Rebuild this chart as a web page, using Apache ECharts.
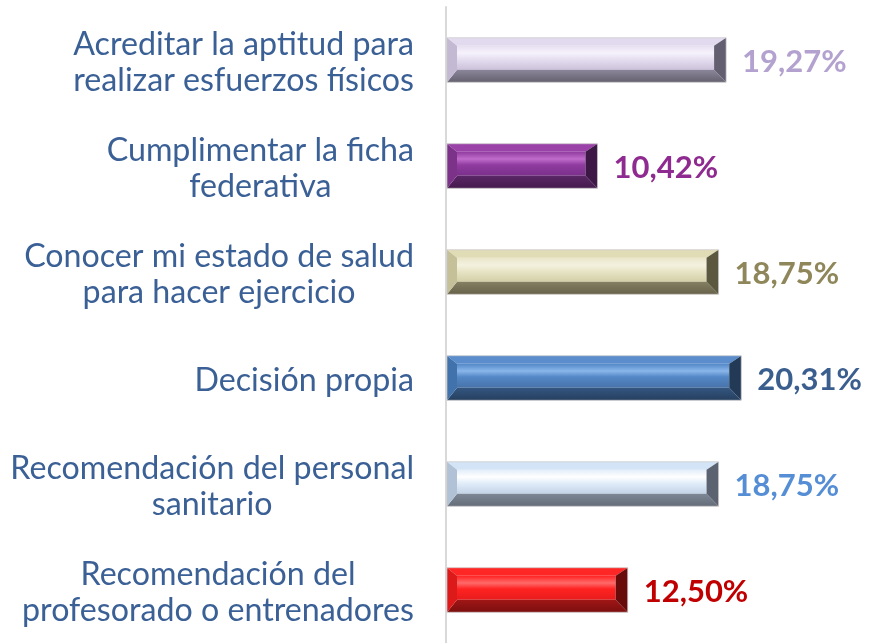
<!DOCTYPE html>
<html>
<head>
<meta charset="utf-8">
<script src="https://cdn.jsdelivr.net/npm/echarts@6/dist/echarts.min.js"></script>
<style>
    html, body { margin: 0; padding: 0; background: #fff; }
    #chart { width: 869px; height: 643px; }
</style>
</head>
<body>
<div id="chart"></div>
<script>
// categorías (de arriba a abajo)
var categories = [
    'Acreditar la aptitud para\nrealizar esfuerzos físicos',
    'Cumplimentar la ficha\nfederativa',
    'Conocer mi estado de salud\npara hacer ejercicio',
    'Decisión propia',
    'Recomendación del personal\nsanitario',
    'Recomendación del\nprofesorado o entrenadores'
];
var values = [19.27, 10.42, 18.75, 20.31, 18.75, 12.50];

// colores de cada barra biselada
var palettes = [
    { top: '#e2daee', hi: '#f6f2fb', face: '#e6dff1', low: '#cbc1da', bottom: ['#8b869a', '#66616f'], left: '#c3b9d3', right: '#635e70', label: '#b3a2cf' },
    { top: '#9a42a8', hi: '#c06ccc', face: '#8f3b9f', low: '#7a308b', bottom: ['#5a2766', '#441a4d'], left: '#7d3289', right: '#3d1745', label: '#8e2a90' },
    { top: '#e0dcb6', hi: '#f4f2e0', face: '#e8e5c8', low: '#d3cfa6', bottom: ['#858063', '#66624a'], left: '#c5c097', right: '#5b583f', label: '#8f875a' },
    { top: '#5b8dcc', hi: '#8ab6ea', face: '#5387c6', low: '#4873a9', bottom: ['#345680', '#263f5f'], left: '#4272ab', right: '#233a57', label: '#3a5f8f' },
    { top: '#d3e4f7', hi: '#ffffff', face: '#e2edf9', low: '#c3d3e7', bottom: ['#7d8795', '#646c79'], left: '#b2c2d6', right: '#5b6370', label: '#558ed5' },
    { top: '#ff2626', hi: '#ff6a6a', face: '#ff2222', low: '#e81c1c', bottom: ['#a01616', '#7c0e0e'], left: '#dc1a1a', right: '#6a0b0b', label: '#c00000' }
];

var labelColor = '#3a6096';

function fmt(v) {
    return v.toFixed(2).replace('.', ',') + '%';
}

function renderItem(params, api) {
    var idx = api.value(1);
    var val = api.value(0);
    var p0 = api.coord([0, idx]);
    var p1 = api.coord([val, idx]);
    var band = api.size([0, 1])[1];
    var h = band * 0.42;
    var x0 = p0[0] + 1, x1 = p1[0], yc = p0[1];
    var y0 = yc - h / 2, y1 = yc + h / 2;
    var bl = 10, br = 12, bt = h * 0.18, bb = h * 0.28;
    var c = palettes[idx];
    var lin = echarts.graphic.LinearGradient;
    return {
        type: 'group',
        children: [
            // cara frontal
            { type: 'rect', shape: { x: x0 + bl, y: y0 + bt, width: x1 - x0 - bl - br, height: h - bt - bb },
              style: { fill: new lin(0, 0, 0, 1, [
                  { offset: 0, color: c.face }, { offset: 0.3, color: c.hi }, { offset: 0.55, color: c.face }, { offset: 1, color: c.low }]) } },
            // bisel superior
            { type: 'polygon', shape: { points: [[x0, y0], [x1, y0], [x1 - br, y0 + bt], [x0 + bl, y0 + bt]] },
              style: { fill: c.top } },
            // bisel inferior
            { type: 'polygon', shape: { points: [[x0 + bl, y1 - bb], [x1 - br, y1 - bb], [x1, y1], [x0, y1]] },
              style: { fill: new lin(0, 0, 0, 1, [{ offset: 0, color: c.bottom[0] }, { offset: 1, color: c.bottom[1] }]) } },
            // bisel izquierdo
            { type: 'polygon', shape: { points: [[x0, y0], [x0 + bl, y0 + bt], [x0 + bl, y1 - bb], [x0, y1]] },
              style: { fill: c.left } },
            // bisel derecho
            { type: 'polygon', shape: { points: [[x1, y0], [x1, y1], [x1 - br, y1 - bb], [x1 - br, y0 + bt]] },
              style: { fill: c.right } },
            // borde
            { type: 'rect', shape: { x: x0, y: y0, width: x1 - x0, height: h },
              style: { fill: null, stroke: 'rgba(200,200,200,0.7)', lineWidth: 1 } },
            // etiqueta de valor
            { type: 'text', x: x1 + 16, y: yc + 2,
              style: { text: fmt(val), fill: c.label, font: 'bold 31px Lato', align: 'left', verticalAlign: 'middle' } }
        ]
    };
}

var myChart = echarts.init(document.getElementById('chart'));
var option = {
    animation: false,
    grid: { left: 446, right: 16, top: 7, bottom: -4 },
    xAxis: {
        type: 'value',
        min: 0,
        max: 28,
        show: false
    },
    yAxis: {
        type: 'category',
        inverse: true,
        data: categories,
        axisLine: { show: true, lineStyle: { color: '#d9d9d9', width: 2 } },
        axisTick: { show: false },
        axisLabel: {
            margin: 32,
            padding: [6, 0, 0, 0],
            formatter: function (v) {
                return v.split('\n').map(function (l) { return '{c|' + l + '}'; }).join('\n');
            },
            rich: {
                c: { align: 'center', fontSize: 32.2, fontFamily: 'Lato', color: labelColor, lineHeight: 36 }
            }
        }
    },
    series: [{
        type: 'custom',
        renderItem: renderItem,
        encode: { x: 0, y: 1 },
        data: values.map(function (v, i) { return [v, i]; })
    }]
};
myChart.setOption(option);
</script>
</body>
</html>
